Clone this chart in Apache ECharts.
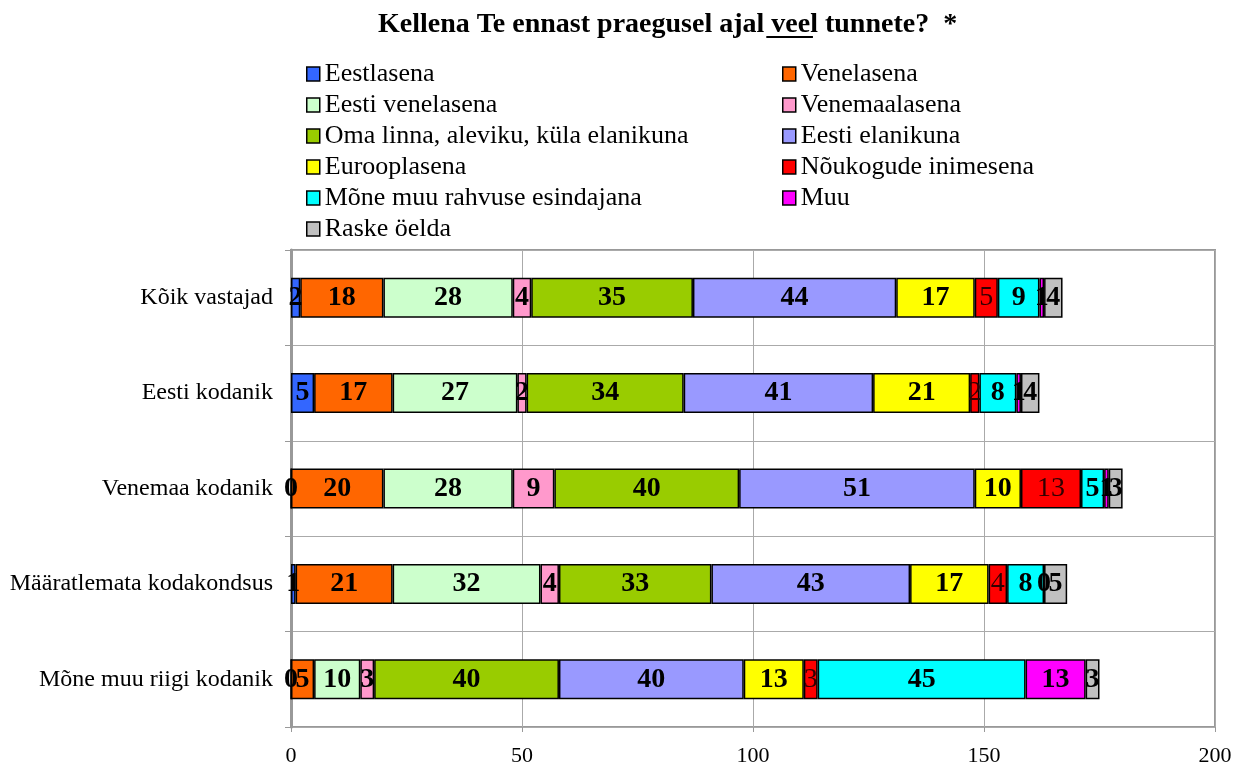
<!DOCTYPE html>
<html><head><meta charset="utf-8">
<script src="https://cdn.jsdelivr.net/npm/echarts@6/dist/echarts.min.js"></script>
<style>html,body{margin:0;padding:0;background:#fff}#c{width:1235px;height:770px}</style>
</head><body><div id="c"></div>
<script>
const categories = ['Kõik vastajad','Eesti kodanik','Venemaa kodanik','Määratlemata kodakondsus','Mõne muu riigi kodanik'];
const seriesNames = ['Eestlasena','Venelasena','Eesti venelasena','Venemaalasena','Oma linna, aleviku, küla elanikuna','Eesti elanikuna','Eurooplasena','Nõukogude inimesena','Mõne muu rahvuse esindajana','Muu','Raske öelda'];
const colors = ['#3366ff','#ff6600','#ccffcc','#ff99cc','#99cc00','#9999ff','#ffff00','#ff0000','#00ffff','#ff00ff','#c0c0c0'];
const eestlasena = [2,5,0,1,0];
const venelasena = [18,17,20,21,5];
const eestiVenelasena = [28,27,28,32,10];
const venemaalasena = [4,2,9,4,3];
const omaLinna = [35,34,40,33,40];
const eestiElanikuna = [44,41,51,43,40];
const eurooplasena = [17,21,10,17,13];
const noukogude = [5,2,13,4,3];
const moneMuu = [9,8,5,8,45];
const muu = [1,1,1,0,13];
const raskeOelda = [4,4,3,5,3];
const values = [eestlasena,venelasena,eestiVenelasena,venemaalasena,omaLinna,eestiElanikuna,eurooplasena,noukogude,moneMuu,muu,raskeOelda];
const xTicks = [0,50,100,150,200];

const font = 'Liberation Serif';
const chart = echarts.init(document.getElementById('c'));
const series = seriesNames.map((n,i)=>({
  name:n, type:'bar', stack:'all', data:values[i], barWidth:40,
  itemStyle:{color:colors[i], borderColor:'#000', borderWidth:1.5},
  label:{show:true, position:'inside', fontFamily:font, fontSize:28,
    fontWeight: i===7 ? 'normal' : 'bold', color: i===7 ? '#300000' : '#000'},
  emphasis:{disabled:true}
}));
const legendCommon = {orient:'vertical', itemWidth:13, itemHeight:14, itemGap:5,
  icon:'rect', textStyle:{fontFamily:font, fontSize:26, color:'#000', padding:[0,0,0,0]},
  itemStyle:{borderColor:'#000', borderWidth:1.5}, selectedMode:false};
const titleText = 'Kellena Te ennast praegusel ajal veel tunnete?  *';
const titleLeft = 373;
chart.setOption({
  animation:false,
  color:colors,
  title:{text:'Kellena Te ennast praegusel ajal {u|veel} tunnete?  *', left:titleLeft, top:6,
    textStyle:{fontFamily:font, fontSize:28, fontWeight:'bold', color:'#000',
      rich:{u:{fontFamily:font, fontSize:28, fontWeight:'bold', color:'#000'}}}},
  legend:[
    Object.assign({left:301, top:56, data:[seriesNames[0],seriesNames[2],seriesNames[4],seriesNames[6],seriesNames[8],seriesNames[10]]}, legendCommon),
    Object.assign({left:777, top:56, data:[seriesNames[1],seriesNames[3],seriesNames[5],seriesNames[7],seriesNames[9]]}, legendCommon)
  ],
  grid:{left:291, right:20, top:250, bottom:43, show:true, borderColor:'#999', borderWidth:2, containLabel:false},
  xAxis:{type:'value', min:0, max:200, interval:50,
    axisLine:{show:false}, axisTick:{show:true, length:5, lineStyle:{color:'#999'}},
    splitLine:{show:true, lineStyle:{color:'#aaa', width:1}},
    axisLabel:{fontFamily:font, fontSize:22, color:'#000', margin:18,
      formatter:v=>xTicks.includes(v)?String(v):''}},
  yAxis:{type:'category', data:categories, inverse:true,
    axisLine:{show:true, lineStyle:{color:'#999', width:3}},
    axisTick:{show:true, length:6, lineStyle:{color:'#999'}},
    splitLine:{show:true, lineStyle:{color:'#aaa', width:1}},
    axisLabel:{fontFamily:font, fontSize:24, color:'#000', margin:18}},
  series:series
});
// underline under "veel" in the title
const m = (function(){const c=document.createElement('canvas').getContext('2d');c.font='bold 28px "'+font+'"';return {pre:c.measureText('Kellena Te ennast praegusel ajal ').width, w:c.measureText('veel').width};})();
const x0 = titleLeft + m.pre;
chart.setOption({graphic:[{type:'line', shape:{x1:x0, y1:37, x2:x0+m.w, y2:37}, style:{stroke:'#000', lineWidth:2}, silent:true}]});
</script></body></html>
